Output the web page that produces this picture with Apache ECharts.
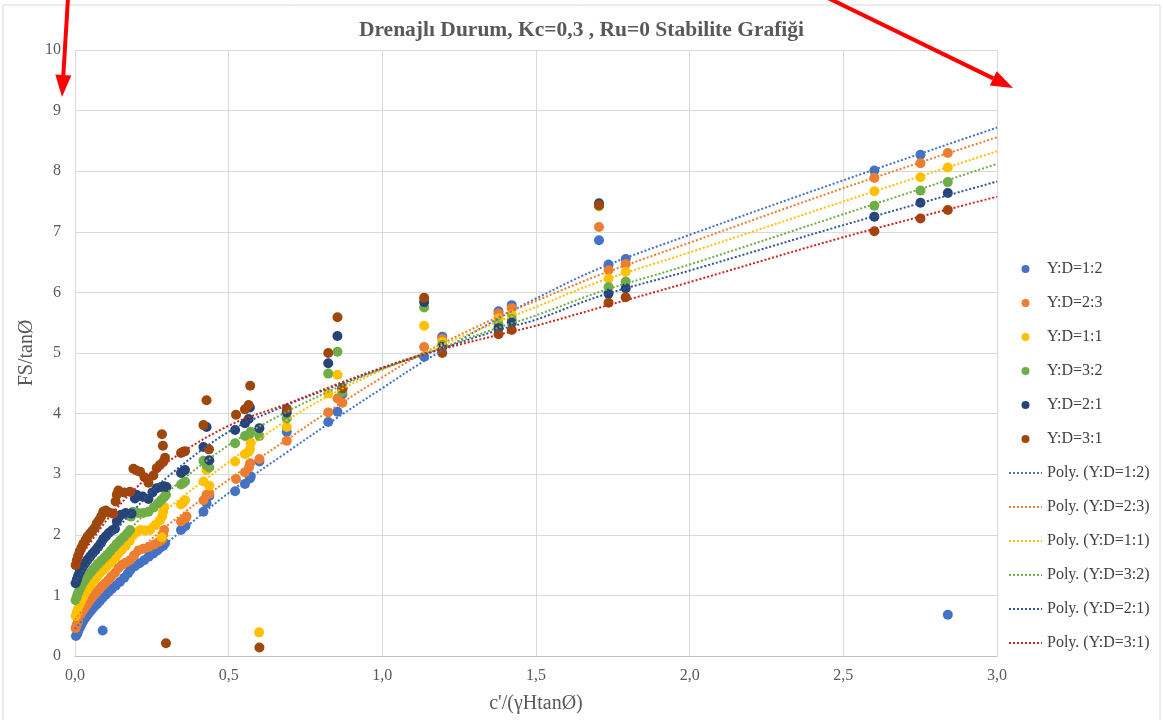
<!DOCTYPE html>
<html><head><meta charset="utf-8">
<script src="https://cdn.jsdelivr.net/npm/echarts@6/dist/echarts.min.js"></script>
<style>html,body{margin:0;padding:0;background:#fff}#c{width:1163px;height:720px}</style>
</head><body><div id="c"></div>
<script>
const titleText = 'Drenajlı Durum, Kc=0,3 , Ru=0 Stabilite Grafiği';
const xName = "c'/(γHtanØ)";
const yName = 'FS/tanØ';
const seriesNames = ['Y:D=1:2', 'Y:D=2:3', 'Y:D=1:1', 'Y:D=3:2', 'Y:D=2:1', 'Y:D=3:1'];
const pointColors = ['#4472C4', '#ED7D31', '#FFC000', '#70AD47', '#264478', '#9E480E'];
const trendColors = ['#4472C4', '#ED7D31', '#FFC000', '#70AD47', '#2F5597', '#C8261E'];

const yd12 = [[0.003,0.33],[0.008,0.37],[0.011,0.42],[0.016,0.47],[0.021,0.52],[0.026,0.57],[0.032,0.62],[0.038,0.66],[0.044,0.70],[0.050,0.74],[0.057,0.78],[0.064,0.82],[0.072,0.86],[0.081,0.91],[0.090,0.96],[0.100,1.01],[0.110,1.06],[0.120,1.11],[0.132,1.16],[0.146,1.22],[0.160,1.29],[0.172,1.36],[0.180,1.42],[0.195,1.48],[0.210,1.53],[0.225,1.58],[0.240,1.64],[0.255,1.69],[0.268,1.74],[0.278,1.79],[0.287,1.82],[0.293,1.86],
  [0.345,2.08],[0.352,2.12],[0.360,2.15],[0.418,2.38],[0.428,2.52],[0.437,2.64],[0.521,2.72],[0.553,2.84],[0.569,2.93],[0.572,2.96],[0.600,3.21],[0.689,3.70],
  [0.824,3.86],[0.854,4.03],[0.870,4.32],[1.136,4.94],[1.195,5.27],[1.378,5.69],[1.421,5.79],[1.705,6.86],[1.736,6.46],[1.792,6.55],[2.601,8.01],[2.751,8.27],[2.840,0.68],[0.090,0.42]];
const yd23 = [[0.002,0.46],[0.006,0.52],[0.010,0.58],[0.015,0.64],[0.020,0.70],[0.026,0.75],[0.032,0.80],[0.039,0.85],[0.046,0.90],[0.053,0.95],[0.061,1.00],[0.070,1.05],[0.079,1.10],[0.088,1.15],[0.098,1.20],[0.108,1.25],[0.118,1.31],[0.130,1.37],[0.141,1.45],[0.152,1.50],[0.165,1.54],[0.179,1.58],[0.192,1.66],[0.206,1.74],[0.222,1.77],[0.240,1.80],[0.258,1.84],[0.272,1.88],[0.284,1.92],[0.287,2.00],[0.290,2.08],
  [0.345,2.22],[0.358,2.27],[0.363,2.30],[0.418,2.57],[0.428,2.66],[0.437,2.68],[0.524,2.92],[0.553,3.03],[0.566,3.11],[0.570,3.18],[0.600,3.25],[0.689,3.55],
  [0.824,4.02],[0.854,4.25],[0.870,4.18],[1.136,5.10],[1.195,5.23],[1.378,5.65],[1.421,5.74],[1.705,7.08],[1.736,6.37],[1.792,6.47],[2.601,7.89],[2.751,8.13],[2.840,8.30]];
const yd11 = [[0.002,0.66],[0.006,0.72],[0.010,0.78],[0.015,0.85],[0.020,0.91],[0.026,0.97],[0.032,1.03],[0.039,1.09],[0.047,1.15],[0.055,1.21],[0.063,1.26],[0.071,1.31],[0.080,1.36],[0.090,1.41],[0.100,1.46],[0.111,1.52],[0.122,1.58],[0.133,1.64],[0.141,1.69],[0.152,1.75],[0.165,1.82],[0.178,1.90],[0.186,2.00],[0.198,2.04],[0.212,2.08],[0.228,2.07],[0.244,2.08],[0.262,2.16],[0.277,2.24],[0.284,2.31],[0.287,2.38],[0.290,2.46],[0.282,1.96],
  [0.345,2.50],[0.352,2.53],[0.358,2.57],[0.418,2.88],[0.428,3.07],[0.437,2.81],[0.521,3.21],[0.553,3.33],[0.565,3.37],[0.569,3.41],[0.572,3.52],[0.599,0.39],[0.689,3.78],
  [0.824,4.33],[0.854,4.64],[0.870,4.40],[1.136,5.45],[1.195,5.18],[1.378,5.57],[1.421,5.63],[1.705,7.42],[1.736,6.23],[1.792,6.34],[2.601,7.67],[2.751,7.90],[2.840,8.06]];
const yd32 = [[0.002,0.92],[0.006,0.98],[0.010,1.04],[0.015,1.10],[0.021,1.16],[0.027,1.22],[0.034,1.27],[0.041,1.32],[0.049,1.37],[0.057,1.42],[0.066,1.47],[0.075,1.52],[0.085,1.57],[0.095,1.62],[0.105,1.67],[0.115,1.73],[0.126,1.79],[0.136,1.85],[0.146,1.90],[0.158,1.96],[0.170,2.02],[0.179,2.08],[0.182,2.30],[0.188,2.38],[0.205,2.36],[0.222,2.36],[0.239,2.38],[0.256,2.45],[0.270,2.52],[0.280,2.57],[0.290,2.62],[0.296,2.66],
  [0.345,2.83],[0.352,2.85],[0.358,2.88],[0.418,3.22],[0.428,3.15],[0.437,3.11],[0.521,3.51],[0.553,3.63],[0.569,3.67],[0.572,3.70],[0.600,3.63],[0.689,3.92],
  [0.824,4.66],[0.854,5.02],[0.870,4.36],[1.136,5.75],[1.195,5.13],[1.378,5.48],[1.421,5.56],[1.705,7.43],[1.736,6.09],[1.792,6.18],[2.601,7.43],[2.751,7.68],[2.840,7.82]];
const yd21 = [[0.002,1.20],[0.006,1.26],[0.010,1.32],[0.015,1.38],[0.021,1.44],[0.027,1.49],[0.034,1.54],[0.041,1.59],[0.049,1.64],[0.057,1.69],[0.066,1.74],[0.075,1.80],[0.084,1.86],[0.092,1.93],[0.101,1.98],[0.110,2.03],[0.120,2.07],[0.130,2.10],[0.136,2.22],[0.141,2.28],[0.150,2.33],[0.165,2.36],[0.184,2.35],[0.195,2.60],[0.200,2.66],[0.220,2.63],[0.239,2.59],[0.252,2.70],[0.266,2.77],[0.280,2.79],[0.290,2.80],[0.298,2.79],
  [0.345,3.02],[0.352,3.05],[0.358,3.07],[0.418,3.45],[0.428,3.78],[0.437,3.23],[0.521,3.73],[0.553,3.84],[0.565,3.91],[0.569,4.10],[0.600,3.76],[0.689,4.02],
  [0.824,4.83],[0.854,5.28],[0.870,4.42],[1.136,5.84],[1.195,5.10],[1.378,5.41],[1.421,5.50],[1.705,7.47],[1.736,5.98],[1.792,6.07],[2.601,7.25],[2.751,7.48],[2.840,7.64]];
const yd31 = [[0.002,1.50],[0.006,1.58],[0.010,1.65],[0.015,1.72],[0.021,1.79],[0.027,1.85],[0.034,1.91],[0.041,1.97],[0.049,2.02],[0.057,2.07],[0.065,2.12],[0.071,2.19],[0.078,2.24],[0.085,2.30],[0.092,2.38],[0.100,2.40],[0.110,2.37],[0.125,2.35],[0.132,2.55],[0.136,2.66],[0.141,2.73],[0.160,2.70],[0.179,2.71],[0.190,3.09],[0.200,3.06],[0.212,3.04],[0.226,2.95],[0.239,2.86],[0.255,2.98],[0.266,3.10],[0.276,3.15],[0.287,3.20],[0.283,3.66],[0.286,3.47],[0.293,3.27],[0.296,0.21],
  [0.345,3.35],[0.352,3.37],[0.358,3.38],[0.418,3.81],[0.428,4.22],[0.436,3.41],[0.524,3.98],[0.553,4.07],[0.565,4.14],[0.570,4.46],[0.600,0.14],[0.689,4.08],
  [0.824,5.00],[0.854,5.59],[0.870,4.42],[1.136,5.91],[1.195,5.00],[1.378,5.31],[1.421,5.38],[1.705,7.44],[1.736,5.83],[1.792,5.92],[2.601,7.01],[2.751,7.22],[2.840,7.36]];

// trend lines
const trendX  = [0, 0.1, 0.2, 0.3, 0.5, 0.689, 0.85, 1.0, 1.134, 1.378, 1.5, 1.708, 2.0, 2.5, 3.0];
const trend12 = [0.45, 1.00, 1.45, 1.87, 2.69, 3.36, 3.92, 4.42, 4.86, 5.57, 5.90, 6.40, 6.95, 7.85, 8.72];
const trend23 = [0.60, 1.20, 1.70, 2.15, 2.91, 3.57, 4.12, 4.60, 5.00, 5.60, 5.86, 6.29, 6.82, 7.72, 8.56];
const trend11 = [0.78, 1.40, 1.95, 2.42, 3.20, 3.89, 4.36, 4.72, 5.00, 5.52, 5.76, 6.18, 6.66, 7.50, 8.33];
const trend32 = [1.00, 1.62, 2.20, 2.70, 3.48, 4.03, 4.42, 4.74, 4.98, 5.42, 5.62, 6.01, 6.46, 7.29, 8.12];
const trend21 = [1.23, 1.88, 2.45, 2.95, 3.70, 4.14, 4.46, 4.75, 4.97, 5.38, 5.55, 5.94, 6.36, 7.11, 7.83];
const trend31 = [1.50, 2.22, 2.78, 3.20, 3.80, 4.16, 4.48, 4.76, 4.98, 5.30, 5.45, 5.75, 6.17, 6.91, 7.58];

const xTicks = ['0,0', '0,5', '1,0', '1,5', '2,0', '2,5', '3,0'];

const pointSets = [yd12, yd23, yd11, yd32, yd21, yd31];
const trendSets = [trend12, trend23, trend11, trend32, trend21, trend31];

const serif = '"Liberation Serif", "Times New Roman", serif';
const series = [];
pointSets.forEach((d, i) => {
  series.push({
    name: seriesNames[i], type: 'scatter', data: d, symbol: 'circle', symbolSize: 10,
    itemStyle: { color: pointColors[i], opacity: 1 }, z: 2
  });
});
trendSets.forEach((t, i) => {
  series.push({
    name: 'Poly. (' + seriesNames[i] + ')', type: 'line', showSymbol: false, symbol: 'none',
    smooth: 0.35, data: trendX.map((x, k) => [x, t[k]]),
    lineStyle: { color: trendColors[i], width: 2, type: [2, 2], cap: 'butt' },
    itemStyle: { color: trendColors[i] }, z: 5, silent: true
  });
});

const legendData = seriesNames.map(n => ({ name: n }))
  .concat(seriesNames.map(n => ({ name: 'Poly. (' + n + ')', itemStyle: { opacity: 0 } })));

function arrow(x1, y1, x2, y2) {
  const ang = Math.atan2(y2 - y1, x2 - x1), L = 22, W = 8;
  const bx = x2 - L * Math.cos(ang), by = y2 - L * Math.sin(ang);
  const px = -Math.sin(ang) * W, py = Math.cos(ang) * W;
  return [
    { type: 'line', shape: { x1: x1, y1: y1, x2: bx, y2: by }, style: { stroke: '#FF0000', lineWidth: 4 }, z: 100 },
    { type: 'polygon', shape: { points: [[x2, y2], [bx + px, by + py], [bx - px, by - py]] }, style: { fill: '#FF0000' }, z: 100 }
  ];
}

const chart = echarts.init(document.getElementById('c'), null, { renderer: 'canvas' });
chart.setOption({
  animation: false,
  backgroundColor: '#fff',
  title: {
    text: titleText, left: 'center', top: 14,
    textStyle: { fontFamily: serif, fontSize: 21.5, fontWeight: 'bold', color: '#595959' }
  },
  grid: { left: 75, right: 166, top: 50, bottom: 64, containLabel: false },
  legend: {
    orient: 'vertical', left: 1003, top: 255, itemWidth: 33, itemHeight: 8, itemGap: 16,
    textStyle: { fontFamily: serif, fontSize: 16, color: '#404040', lineHeight: 18 },
    data: legendData
  },
  xAxis: {
    type: 'value', min: 0, max: 3, interval: 0.5,
    name: xName, nameLocation: 'middle', nameGap: 38, nameMoveOverlap: false,
    nameTextStyle: { fontFamily: serif, fontSize: 20, color: '#595959' },
    axisLine: { show: true, lineStyle: { color: '#BFBFBF' } },
    axisTick: { show: false },
    axisLabel: { fontFamily: serif, fontSize: 16, color: '#595959', margin: 12,
      formatter: v => xTicks[Math.round(v / 0.5)] },
    splitLine: { show: true, lineStyle: { color: '#D9D9D9', width: 1 } }
  },
  yAxis: {
    type: 'value', min: 0, max: 10, interval: 1,
    name: yName, nameLocation: 'middle', nameGap: 38, nameMoveOverlap: false,
    nameTextStyle: { fontFamily: serif, fontSize: 20, color: '#595959' },
    axisLine: { show: false }, axisTick: { show: false },
    axisLabel: { fontFamily: serif, fontSize: 16, color: '#595959', margin: 14 },
    splitLine: { show: true, lineStyle: { color: '#D9D9D9', width: 1 } }
  },
  graphic: [
    { type: 'rect', shape: { x: 3, y: 5, width: 1157, height: 716 }, style: { fill: 'none', stroke: '#D9D9D9', lineWidth: 1 }, z: -1 }
  ].concat(arrow(68, -2, 62, 97)).concat(arrow(828, -2, 1013, 88)),
  series: series
});
</script></body></html>
